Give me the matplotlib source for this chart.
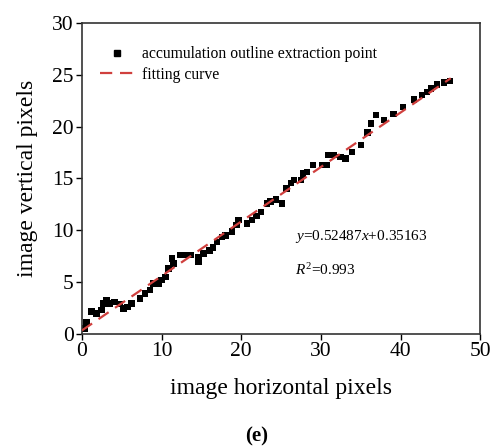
import numpy as np
import matplotlib
matplotlib.use('Agg')
import matplotlib.pyplot as plt
from matplotlib.lines import Line2D

plt.rcParams['font.family'] = ['Liberation Serif', 'DejaVu Serif']
plt.rcParams['mathtext.fontset'] = 'custom'
plt.rcParams['mathtext.rm'] = 'Liberation Serif'
plt.rcParams['mathtext.it'] = 'Liberation Serif:italic'

# extraction points
x_pts = [0.38, 0.58, 1.21, 1.83, 2.46, 2.67, 3.09, 3.51, 4.05, 4.77, 5.18, 5.72,
         6.23, 7.28, 7.91, 8.54, 8.95, 9.58, 9.99, 10.49, 10.83, 11.30, 11.46,
         12.30, 12.93, 13.60, 14.64, 14.64, 15.26, 16.02, 16.44, 16.95, 17.57,
         17.99, 18.83, 19.37, 19.66, 20.71, 21.34, 21.88, 22.47, 23.22, 23.64,
         24.39, 25.11, 25.65, 26.24, 26.65, 27.49, 27.74, 28.25, 29.00, 30.13,
         30.67, 30.96, 31.58, 32.43, 33.06, 33.89, 35.02, 35.85, 36.28, 36.94,
         37.95, 39.12, 40.30, 41.71, 42.68, 43.31, 43.81, 44.56, 45.48, 46.23]
y_pts = [0.55, 1.18, 2.15, 1.99, 2.31, 2.96, 3.28, 2.96, 3.11, 2.89, 2.48, 2.63,
         2.96, 3.44, 3.92, 4.24, 4.88, 4.88, 5.20, 5.52, 6.33, 7.29, 6.81,
         7.61, 7.61, 7.61, 7.39, 6.97, 7.77, 8.03, 8.35, 8.89, 9.37,
         9.51, 9.86, 10.50, 10.98, 10.66, 10.98, 11.37, 11.78, 12.59, 12.75,
         12.98, 12.59, 14.04, 14.58, 14.84, 14.84, 15.48, 15.64, 16.28, 16.28,
         16.28, 17.24, 17.24, 17.08, 16.93, 17.56, 18.21, 19.43, 20.30, 21.10,
         20.62, 21.19, 21.90, 22.61, 23.03, 23.34, 23.67, 24.06, 24.25, 24.37]

slope, intercept = 0.52487, 0.35163
fit_x = [0.0, 46.3]

RED = '#d0403e'

fig = plt.figure(figsize=(4.91, 4.46), dpi=100)
ax = fig.add_axes([0.167, 0.251, 0.811, 0.698])

ax.scatter(x_pts, y_pts, marker='s', s=22, c='black', edgecolors='none', zorder=2)
fx = np.array(fit_x)
ax.plot(fx, slope * fx + intercept, '--', color=RED, linewidth=1.6,
        dashes=(5.5, 3.5), zorder=3)

ax.set_xlim(0, 50)
ax.set_ylim(0, 30)
ax.set_xticks([0, 10, 20, 30, 40, 50])
ax.set_yticks([0, 5, 10, 15, 20, 25, 30])
ax.tick_params(direction='out', length=4, width=1, labelsize=15.5, pad=2,
               top=False, right=False)
for sp in ax.spines.values():
    sp.set_linewidth(1.2)
    sp.set_color('#333333')

ax.set_xlabel('image horizontal pixels', fontsize=17, labelpad=12)
ax.set_ylabel('image vertical pixels', fontsize=17, labelpad=10)

handles = [Line2D([0], [0], marker='s', linestyle='', color='black', markersize=5,
                  label='accumulation outline extraction point'),
           Line2D([0], [0], linestyle='--', color=RED, linewidth=1.6,
                  dashes=(5.5, 3.5), label='fitting curve')]
ax.legend(handles=handles, loc='upper left', bbox_to_anchor=(0.01, 0.97),
          frameon=False, fontsize=11.3, handlelength=2.2, handletextpad=0.5,
          labelspacing=0.3, borderaxespad=0.5)

ax.text(26.8, 9.4, r'$y$=0.52487$x$+0.35163', fontsize=11, va='center')
ax.text(26.8, 6.2, r'$R^2$=0.993', fontsize=11, va='center')

fig.text(0.523, 0.022, '(e)', fontsize=15, fontweight='bold', ha='center',
         va='center')

fig.savefig('out.png', dpi=100)
